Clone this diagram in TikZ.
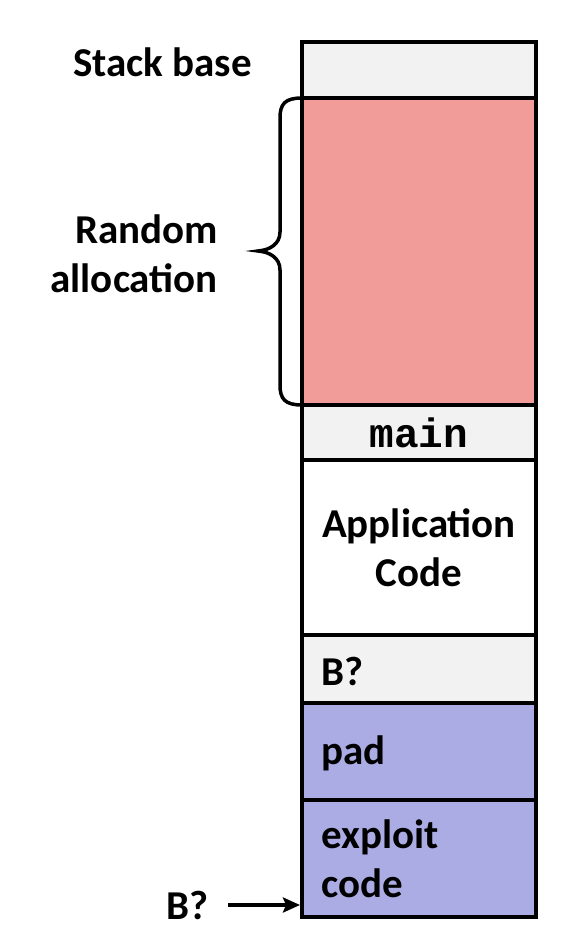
\documentclass[tikz,border=0pt]{standalone}
\usepackage{fontspec}
\setmainfont{Carlito}
\newfontfamily\monofnt{Liberation Mono}
\usetikzlibrary{arrows.meta}
\definecolor{cellgray}{HTML}{F2F2F2}
\definecolor{cellpink}{HTML}{F29C9A}
\definecolor{cellblue}{HTML}{ACACE4}
\begin{document}
\begin{tikzpicture}[x=1pt,y=-1pt,
  cell/.style={draw=black,line width=4pt,minimum width=234pt,inner sep=0pt,outer sep=0pt,anchor=center},
  lbl/.style={font=\fontsize{41}{49}\selectfont\bfseries,inner sep=0pt},
  lefttxt/.style={lbl,text width=196pt,align=left},
]
\useasboundingbox (0,0) rectangle (580,950);
\node[cell,fill=cellgray,minimum height=56pt] (base) at (419,70) {};
\node[cell,fill=cellpink,minimum height=307pt] (rand) at (419,251.5) {};
\node[cell,fill=cellgray,minimum height=55pt,font=\fontsize{41}{49}\selectfont\monofnt\bfseries] (main) at (419,432.5) {main};
\node[cell,fill=white,minimum height=175pt,lbl,align=center] (app) at (419,547.5) {Application\\Code};
\node[cell,fill=cellgray,minimum height=68pt,lbl] (bq) at (419,669) {};
\node[cell,fill=cellblue,minimum height=97pt,lbl] (pad) at (419,751.5) {};
\node[cell,fill=cellblue,minimum height=117pt,lbl] (exp) at (419,858.5) {};
\node[lefttxt,anchor=west] (bqt) at (321,671) {B?};
\node[lefttxt,anchor=west] (padt) at (321,753) {pad};
\node[lefttxt,anchor=west] (expt) at (321,858.5) {exploit\\code};
\node[lbl,anchor=east] (sb) at (252,62) {Stack base};
\node[lbl,align=right,anchor=east] (ra) at (218,254) {Random\\allocation};
\node[lbl,anchor=east] (bb) at (209,905) {B?};
\coordinate (arrEnd) at (300,905);
\draw[line width=3.5pt,-{Stealth[length=17pt,width=15pt,inset=3pt]}] (228,905) -- (arrEnd);
\draw[line width=3.5pt,line cap=round] (rand.north west) .. controls (285,98) and (280,104) .. (280,118)
  -- (280,232) .. controls (280,244) and (270,250) .. (258,251)
  .. controls (270,252) and (280,258) .. (280,270)
  -- (280,385) .. controls (280,399) and (285,405) .. (rand.south west);
\end{tikzpicture}
\end{document}
